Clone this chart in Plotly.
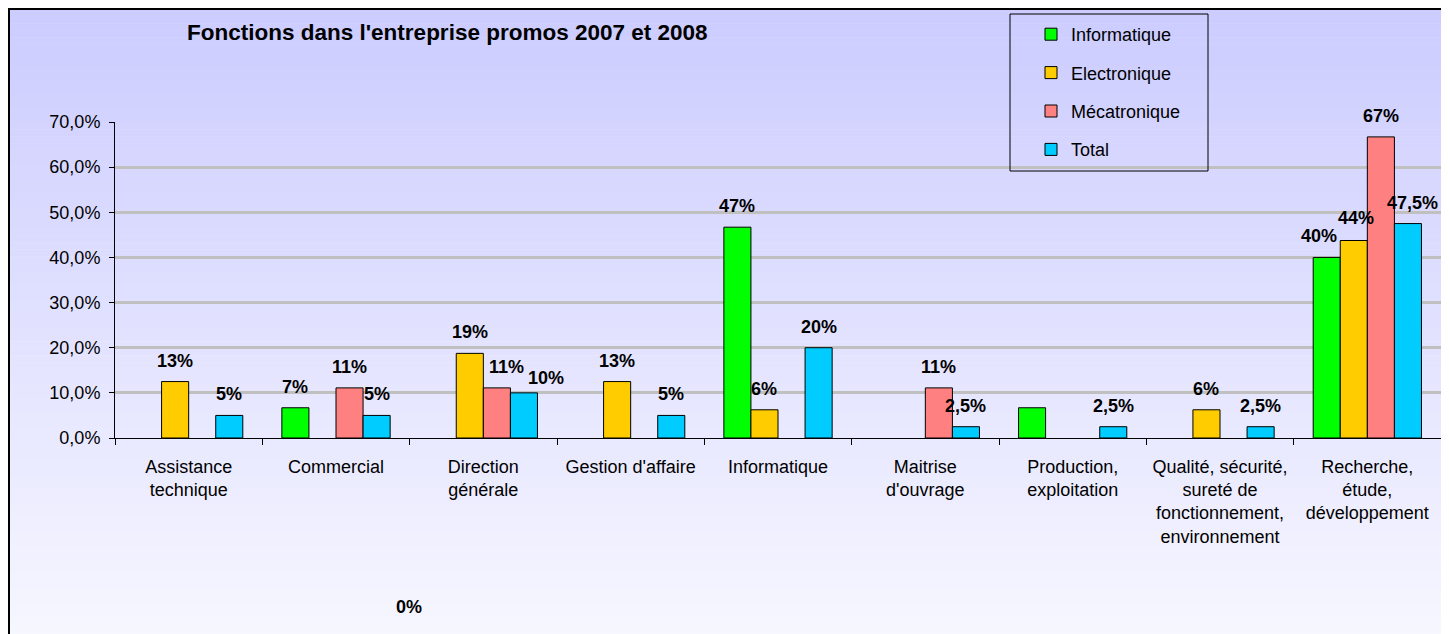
import plotly.graph_objects as go

# ---------------- data ----------------
categories = [
    "Assistance<br>technique",
    "Commercial",
    "Direction<br>générale",
    "Gestion d'affaire",
    "Informatique",
    "Maitrise<br>d'ouvrage",
    "Production,<br>exploitation",
    "Qualité, sécurité,<br>sureté de<br>fonctionnement,<br>environnement",
    "Recherche,<br>étude,<br>développement",
]
series_names = ["Informatique", "Electronique", "Mécatronique", "Total"]
informatique = [None, 6.7, None, None, 46.7, None, 6.7, None, 40.0]
electronique = [12.5, None, 18.75, 12.5, 6.25, None, None, 6.25, 43.75]
mecatronique = [None, 11.1, 11.1, None, None, 11.1, None, None, 66.7]
total = [5, 5, 10, 5, 20, 2.5, 2.5, 2.5, 47.5]

informatique_labels = ["", "7%", "", "", "47%", "", "", "", "40%"]
electronique_labels = ["13%", "", "19%", "13%", "6%", "", "", "6%", "44%"]
mecatronique_labels = ["", "11%", "11%", "", "", "11%", "", "", "67%"]
total_labels = ["5%", "5%", "10%", "5%", "20%", "2,5%", "2,5%", "2,5%", "47,5%"]
stray_label = "0%"

colors = ["#00FF00", "#FFCC00", "#FF8080", "#00CCFF"]

# ---------------- layout geometry ----------------
OFF = 8  # page body margin
W, H = 1436, 626
ML, MT = 107, 114
PLOT_R, PLOT_B = 1433, 430
MR, MB = W - PLOT_R, H - PLOT_B
PW, PH = PLOT_R - ML, PLOT_B - MT
BARGAP = 0.265


def px_x(px):  # screenshot px -> paper
    return (px - OFF - ML) / PW


def px_y(py):
    return (PLOT_B - (py - OFF)) / PH


values = [informatique, electronique, mecatronique, total]
labels = [informatique_labels, electronique_labels, mecatronique_labels, total_labels]

# small label nudges (series index, category index) -> pixel dx, dy
nudges = {(2, 2): (10, 0), (3, 2): (22, -6), (0, 8): (-8, 0), (3, 8): (5, 0), (1, 8): (2, 2)}

fig = go.Figure()
for i, (name, vals, col) in enumerate(zip(series_names, values, colors)):
    fig.add_trace(go.Bar(
        name=name, x=categories, y=vals,
        marker=dict(color=col, line=dict(color="#000000", width=1)),
        legendgroup=name,
    ))

label_font = dict(family="Arial", size=18, color="#000000", weight="bold")
cat_px = PW / len(categories)
bar_px = cat_px * (1 - BARGAP) / len(series_names)
annotations = []
for i, (vals, labs) in enumerate(zip(values, labels)):
    for j, (c, v, t) in enumerate(zip(categories, vals, labs)):
        if t:
            dx, dy = nudges.get((i, j), (0, 0))
            annotations.append(dict(
                x=c, y=v, xref="x", yref="y", text=t, showarrow=False,
                xshift=(i - 1.5) * bar_px + dx, yshift=21 + dy, yanchor="middle",
                font=label_font,
            ))
annotations.append(dict(
    x=px_x(409), y=px_y(607), xref="paper", yref="paper", text=stray_label,
    xanchor="center", yanchor="middle", showarrow=False, font=label_font,
))
annotations.append(dict(
    x=px_x(185), y=px_y(32), xref="paper", yref="paper", xanchor="left", yanchor="middle",
    text="<b>Fonctions dans l'entreprise promos 2007 et 2008</b>", showarrow=False,
    font=dict(family="Arial", size=22.5, color="#000000"),
))

# gradient background + border + legend frame
shapes = []
top_px, bot_px = 9, 645
n = 90
c0 = (204, 204, 255)
c1 = (247, 247, 255)
for k in range(n):
    y0 = top_px + (bot_px - top_px) * k / n
    y1 = top_px + (bot_px - top_px) * (k + 1) / n
    f = k / (n - 1)
    col = "rgb(%d,%d,%d)" % tuple(round(a + (b - a) * f) for a, b in zip(c0, c1))
    shapes.append(dict(
        type="rect", xref="paper", yref="paper", layer="below",
        x0=px_x(9), x1=px_x(1442), y0=px_y(y1 + 0.5), y1=px_y(y0),
        line=dict(width=0), fillcolor=col,
    ))
shapes.append(dict(
    type="rect", xref="paper", yref="paper", layer="above",
    x0=px_x(9), x1=px_x(1442), y0=px_y(660), y1=px_y(9),
    line=dict(color="#000000", width=2), fillcolor="rgba(0,0,0,0)",
))
shapes.append(dict(
    type="rect", xref="paper", yref="paper", layer="above",
    x0=px_x(1010), x1=px_x(1208), y0=px_y(171), y1=px_y(14),
    line=dict(color="#000000", width=1), fillcolor="rgba(0,0,0,0)",
))

fig.update_layout(
    width=W, height=H,
    margin=dict(l=ML, r=MR, t=MT, b=MB),
    paper_bgcolor="#FFFFFF",
    plot_bgcolor="rgba(0,0,0,0)",
    barmode="group", bargap=BARGAP, bargroupgap=0,
    separators=", ",
    font=dict(family="Arial", color="#000000"),
    showlegend=True,
    legend=dict(
        x=px_x(1031), y=px_y(16), xanchor="left", yanchor="top",
        bgcolor="rgba(0,0,0,0)", borderwidth=0,
        font=dict(family="Arial", size=18, color="#000000"),
        tracegroupgap=12, itemwidth=30,
    ),
    annotations=annotations,
    shapes=shapes,
)
fig.update_xaxes(
    type="category", tickson="boundaries", ticks="outside", ticklen=6,
    tickcolor="#000000", showline=True, linecolor="#000000", linewidth=1,
    showgrid=False, tickfont=dict(family="Arial", size=18, color="#000000"),
    ticklabelstandoff=12,
)
fig.update_yaxes(
    range=[0, 70], dtick=10, tickformat=".1f", ticksuffix="%",
    ticks="outside", ticklen=5, tickcolor="#000000",
    showline=True, linecolor="#000000", linewidth=1,
    showgrid=True, gridcolor="#C0C0C0", gridwidth=2.5, zeroline=False,
    tickfont=dict(family="Arial", size=18, color="#000000"),
    ticklabelstandoff=5,
)

fig.write_html("out.html")
